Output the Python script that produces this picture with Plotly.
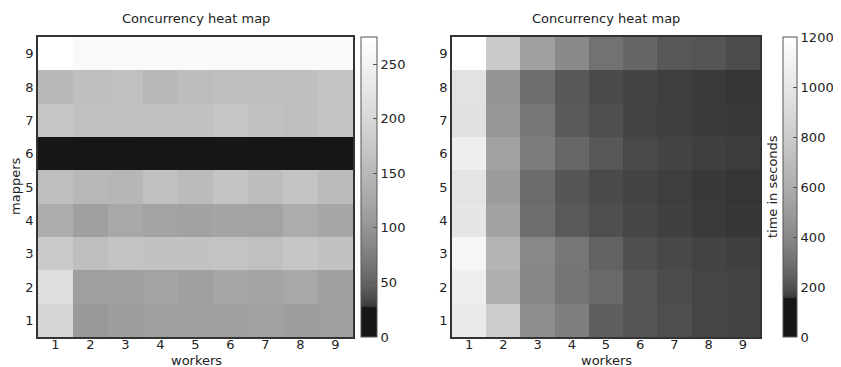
import plotly.graph_objects as go

# the page body adds an 8px offset; the figure is laid out in page pixels
OFF = 8
PAGE_W, PAGE_H = 841, 367
W, H = PAGE_W - OFF, PAGE_H - OFF

workers = [1, 2, 3, 4, 5, 6, 7, 8, 9]
mappers = [1, 2, 3, 4, 5, 6, 7, 8, 9]
tick_labels = ["1", "2", "3", "4", "5", "6", "7", "8", "9"]

# left heat map (rows = mappers 1..9, cols = workers 1..9)
left_m1 = [198, 106, 113, 115, 115, 114, 117, 111, 114]
left_m2 = [212, 114, 115, 119, 115, 123, 122, 126, 115]
left_m3 = [178, 159, 168, 165, 165, 166, 162, 171, 165]
left_m4 = [132, 114, 126, 119, 118, 121, 119, 132, 123]
left_m5 = [159, 149, 146, 162, 155, 166, 157, 168, 154]
left_m6 = [14, 15, 13, 14, 15, 14, 13, 15, 14]
left_m7 = [171, 162, 162, 163, 163, 171, 163, 160, 166]
left_m8 = [149, 160, 162, 149, 157, 160, 160, 160, 166]
left_m9 = [275, 262, 263, 262, 264, 263, 262, 263, 262]

# right heat map (time in seconds)
right_m1 = [1028, 804, 431, 356, 239, 213, 192, 176, 174]
right_m2 = [1060, 614, 392, 314, 276, 211, 189, 176, 174]
right_m3 = [1125, 645, 401, 322, 249, 192, 181, 172, 168]
right_m4 = [996, 537, 291, 225, 194, 178, 168, 161, 158]
right_m5 = [981, 504, 280, 213, 185, 172, 165, 160, 157]
right_m6 = [1060, 537, 347, 266, 216, 183, 174, 167, 163]
right_m7 = [950, 472, 326, 225, 194, 172, 167, 162, 160]
right_m8 = [966, 466, 291, 219, 187, 174, 165, 161, 157]
right_m9 = [1200, 797, 526, 411, 306, 262, 216, 211, 189]

left_z = [left_m1, left_m2, left_m3, left_m4, left_m5, left_m6, left_m7, left_m8, left_m9]
right_z = [right_m1, right_m2, right_m3, right_m4, right_m5, right_m6, right_m7, right_m8, right_m9]

left_ticks = [0, 50, 100, 150, 200, 250]
right_ticks = [0, 200, 400, 600, 800, 1000, 1200]


def make_scale(t0):
    # black segment below t0, then a gray ramp (dense stops near the dark end)
    scale = [[0.0, "#161616"], [t0, "#161616"]]
    n = 80
    for i in range(n + 1):
        u = (i / n) ** 2
        g = int(round(50 + 205 * u ** 0.6))
        pos = t0 + (1 - t0) * u
        scale.append([min(pos, 1.0), f"rgb({g},{g},{g})"])
    scale[-1][0] = 1.0
    return scale


FONT = "DejaVu Sans"
TXT = "#222222"

# page-pixel frame of the plotting region (both panels share top/bottom)
P_LEFT, P_RIGHT, P_TOP, P_BOTTOM = 38, 760, 37, 337
ML = P_LEFT - OFF
MT = P_TOP - OFF
MR = W - (P_RIGHT - OFF)
MB = H - (P_BOTTOM - OFF)
PW = P_RIGHT - P_LEFT
PH = P_BOTTOM - P_TOP


def px_x(p):
    return (p - P_LEFT) / PW


def px_y(p):
    return (P_BOTTOM - p) / PH


fig = go.Figure()
fig.add_trace(go.Heatmap(
    x=workers, y=mappers, z=left_z, zmin=0, zmax=275,
    colorscale=make_scale(0.1), xaxis="x", yaxis="y",
    colorbar=dict(
        x=px_x(361), xanchor="left", xpad=0, y=0, yanchor="bottom", ypad=0,
        lenmode="pixels", len=PH, thicknessmode="pixels", thickness=16,
        outlinewidth=1, outlinecolor="#555555",
        tickvals=left_ticks, ticks="inside", ticklen=4, tickcolor="#555555",
        tickfont=dict(family=FONT, size=13, color=TXT),
    ),
))
fig.add_trace(go.Heatmap(
    x=workers, y=mappers, z=right_z, zmin=0, zmax=1200,
    colorscale=make_scale(0.13), xaxis="x2", yaxis="y2",
    colorbar=dict(
        x=px_x(783), xanchor="left", xpad=0, y=0, yanchor="bottom", ypad=0,
        lenmode="pixels", len=PH, thicknessmode="pixels", thickness=14,
        outlinewidth=1, outlinecolor="#555555",
        tickvals=right_ticks, ticks="inside", ticklen=4, tickcolor="#555555",
        tickfont=dict(family=FONT, size=13, color=TXT),
    ),
))

axis_common = dict(
    range=[0.5, 9.5], tickvals=workers, ticktext=tick_labels,
    showline=True, mirror=True, linecolor="#333333", linewidth=1.5,
    showgrid=False, zeroline=False, ticks="", automargin=False,
    tickfont=dict(family=FONT, size=13, color=TXT),
)

ann_font = dict(family=FONT, size=13, color=TXT)


def label(text, x, y, angle=0):
    return dict(text=text, x=px_x(x), y=px_y(y), xref="paper", yref="paper",
                xanchor="center", yanchor="middle", textangle=angle,
                showarrow=False, font=ann_font)


fig.update_layout(
    width=W, height=H,
    margin=dict(l=ML, r=MR, t=MT, b=MB, autoexpand=False, pad=0),
    paper_bgcolor="white", plot_bgcolor="white",
    font=dict(family=FONT, size=13, color=TXT),
    xaxis=dict(domain=[px_x(38), px_x(353)], anchor="y", ticklabelstandoff=-5, **axis_common),
    yaxis=dict(domain=[0, 1], anchor="x", **axis_common),
    xaxis2=dict(domain=[px_x(452), px_x(760)], anchor="y2", ticklabelstandoff=-5, **axis_common),
    yaxis2=dict(domain=[0, 1], anchor="x2", **axis_common),
    annotations=[
        label("Concurrency heat map", 196, 18),
        label("Concurrency heat map", 606, 18),
        label("workers", 196, 360),
        label("workers", 606, 360),
        label("mappers", 15, 187, -90),
        label("time in seconds", 772, 187, -90),
    ],
)

fig.write_html("out.html")
